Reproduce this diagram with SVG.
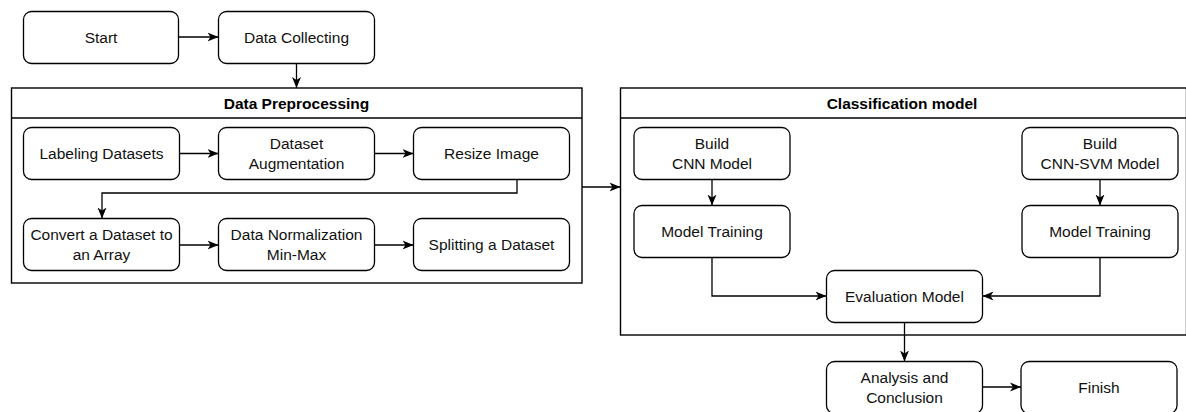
<svg xmlns="http://www.w3.org/2000/svg" width="1186" height="412" viewBox="0 0 1186 412">
<style>
.box{fill:#fff;stroke:#000;stroke-width:1.3}
.cont{fill:#fff;stroke:#000;stroke-width:1.4}
.t{font-family:"Liberation Sans",Arial,sans-serif;font-size:15.5px;fill:#111;text-anchor:middle}
.tb{font-family:"Liberation Sans",Arial,sans-serif;font-size:15.5px;font-weight:bold;fill:#000;text-anchor:middle}
.c{fill:none;stroke:#000;stroke-width:1.3}
</style>
<defs>
<marker id="ah" markerUnits="userSpaceOnUse" markerWidth="12" markerHeight="10" viewBox="0 0 12 10" refX="11" refY="5" orient="auto">
<path d="M0,0.5 L11,5 L0,9.5 L3,5 Z" fill="#000"/>
</marker>
</defs>
<rect width="1186" height="412" fill="#fff"/>
<g id="dp-container">
<rect class="cont" x="11.5" y="88" width="570.5" height="195"/>
<line class="cont" x1="11.5" y1="118" x2="582" y2="118"/>
<text class="tb" x="296.5" y="108.5">Data Preprocessing</text>
</g>
<g id="cls-container">
<rect class="cont" x="620.5" y="88" width="566" height="247"/>
<line class="cont" x1="620.5" y1="118" x2="1186.5" y2="118"/>
<text class="tb" x="902" y="108.5">Classification model</text>
</g>
<g id="start"><rect class="box" x="23.5" y="11.5" width="155" height="52" rx="8"/><text class="t" x="101" y="42.5">Start</text></g>
<g id="data-collecting"><rect class="box" x="218.5" y="11.5" width="156" height="52" rx="8"/><text class="t" x="296.5" y="42.5">Data Collecting</text></g>
<g id="labeling"><rect class="box" x="23.5" y="127.5" width="156" height="52" rx="8"/><text class="t" x="101.5" y="159">Labeling Datasets</text></g>
<g id="augmentation"><rect class="box" x="218.5" y="127.5" width="156" height="52" rx="8"/><text class="t" x="296.5" y="149">Dataset</text><text class="t" x="296.5" y="169">Augmentation</text></g>
<g id="resize"><rect class="box" x="413.5" y="127.5" width="156" height="52" rx="8"/><text class="t" x="491.5" y="159">Resize Image</text></g>
<g id="convert"><rect class="box" x="23.5" y="218.5" width="156" height="52" rx="8"/><text class="t" x="101.5" y="240">Convert a Dataset to</text><text class="t" x="101.5" y="260">an Array</text></g>
<g id="normalization"><rect class="box" x="218.5" y="218.5" width="156" height="52" rx="8"/><text class="t" x="296.5" y="240">Data Normalization</text><text class="t" x="296.5" y="260">Min-Max</text></g>
<g id="splitting"><rect class="box" x="413.5" y="218.5" width="156" height="52" rx="8"/><text class="t" x="491.5" y="250">Splitting a Dataset</text></g>
<g id="build-cnn"><rect class="box" x="634" y="127.5" width="156" height="52" rx="8"/><text class="t" x="712" y="149">Build</text><text class="t" x="712" y="169">CNN Model</text></g>
<g id="train-cnn"><rect class="box" x="634" y="205.5" width="156" height="52" rx="8"/><text class="t" x="712" y="237">Model Training</text></g>
<g id="build-svm"><rect class="box" x="1022" y="127.5" width="156" height="52" rx="8"/><text class="t" x="1100" y="149">Build</text><text class="t" x="1100" y="169">CNN-SVM Model</text></g>
<g id="train-svm"><rect class="box" x="1022" y="205.5" width="156" height="52" rx="8"/><text class="t" x="1100" y="237">Model Training</text></g>
<g id="evaluation"><rect class="box" x="826.5" y="270.5" width="156" height="52" rx="8"/><text class="t" x="904.5" y="302">Evaluation Model</text></g>
<g id="analysis"><rect class="box" x="826.5" y="361.5" width="156" height="52" rx="8"/><text class="t" x="904.5" y="383">Analysis and</text><text class="t" x="904.5" y="403">Conclusion</text></g>
<g id="finish"><rect class="box" x="1021" y="361.5" width="156" height="52" rx="8"/><text class="t" x="1099" y="393">Finish</text></g>
<g id="connectors">
<path class="c" d="M178.5,37 L218.5,37" marker-end="url(#ah)"/>
<path class="c" d="M296.5,63.5 L296.5,88" marker-end="url(#ah)"/>
<path class="c" d="M179.5,153.5 L218.5,153.5" marker-end="url(#ah)"/>
<path class="c" d="M374.5,153.5 L413.5,153.5" marker-end="url(#ah)"/>
<path class="c" d="M517,179.5 L517,193 L102,193 L102,218.5" marker-end="url(#ah)"/>
<path class="c" d="M179.5,245 L218.5,245" marker-end="url(#ah)"/>
<path class="c" d="M374.5,245 L413.5,245" marker-end="url(#ah)"/>
<path class="c" d="M582,187 L620.5,187" marker-end="url(#ah)"/>
<path class="c" d="M712,179.5 L712,205.5" marker-end="url(#ah)"/>
<path class="c" d="M1100,179.5 L1100,205.5" marker-end="url(#ah)"/>
<path class="c" d="M712,257.5 L712,296 L826.5,296" marker-end="url(#ah)"/>
<path class="c" d="M1100,257.5 L1100,296 L982.5,296" marker-end="url(#ah)"/>
<path class="c" d="M904.5,322.5 L904.5,361.5" marker-end="url(#ah)"/>
<path class="c" d="M982.5,387 L1021,387" marker-end="url(#ah)"/>
</g>
</svg>
